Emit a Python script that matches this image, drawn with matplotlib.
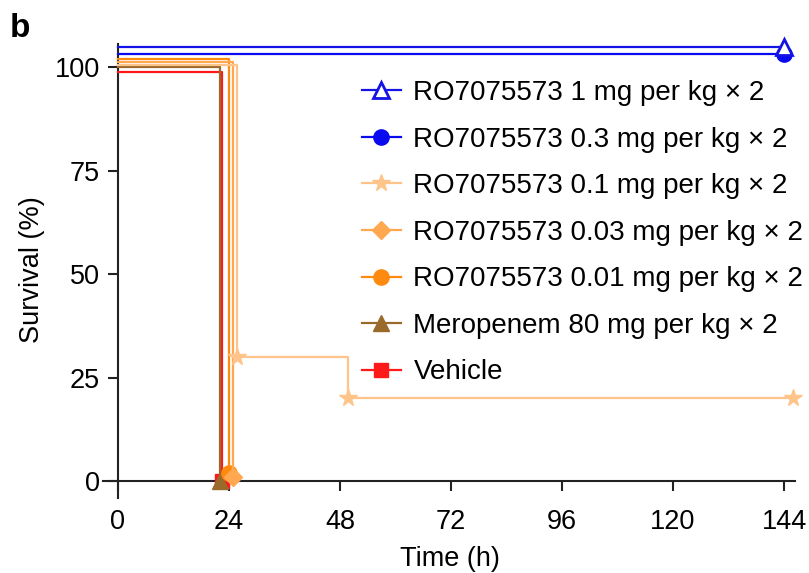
import numpy as np
import matplotlib
matplotlib.use("Agg")
import matplotlib.pyplot as plt

plt.rcParams['font.family'] = ['Liberation Sans', 'DejaVu Sans']

# survival curves (time in h, survival in %)
labels = ["RO7075573 1 mg per kg \u00d7 2",
          "RO7075573 0.3 mg per kg \u00d7 2",
          "RO7075573 0.1 mg per kg \u00d7 2",
          "RO7075573 0.03 mg per kg \u00d7 2",
          "RO7075573 0.01 mg per kg \u00d7 2",
          "Meropenem 80 mg per kg \u00d7 2",
          "Vehicle"]
t_1 = [0, 144]
s_1 = [104.8, 104.8]
t_03 = [0, 144]
s_03 = [103.1, 103.1]
t_01 = [0, 25.8, 49.7, 145.9]
s_01 = [100.4, 30, 20, 20]
t_003 = [0, 24.9]
s_003 = [101.1, 1]
t_001 = [0, 24.0]
s_001 = [101.9, 2]
t_mero = [0, 22.0]
s_mero = [100.0, 0]
t_veh = [0, 22.6]
s_veh = [98.8, 0]

times = [t_1, t_03, t_01, t_003, t_001, t_mero, t_veh]
survs = [s_1, s_03, s_01, s_003, s_001, s_mero, s_veh]
colors = ['#1414e6', '#0a0af0', '#ffc48a', '#ffa84f', '#ff8a10', '#9a6a2a', '#ff1a1a']
markers = ['^', 'o', '*', 'D', 'o', '^', 's']
msizes = [11, 11, 13, 9, 11, 12, 10]
faces = ['white', None, None, None, None, None, None]

fig = plt.figure(figsize=(8.09, 5.73), dpi=100)
ax = fig.add_axes([0.1258, 0.1316, 0.8605, 0.7948])

# draw vehicle first so it sits below the others
for i in reversed(range(len(labels))):
    fc = faces[i] if faces[i] else colors[i]
    ax.plot(times[i], survs[i], drawstyle='steps-post', color=colors[i],
            lw=1.6, marker=markers[i], ms=msizes[i], mfc=fc, mec=colors[i],
            mew=2 if faces[i] else 1, markevery=slice(1, None),
            label=labels[i], zorder=3 + len(labels) - i, clip_on=False)

ax.set_xlim(-3.5, 147)
ax.set_ylim(-4, 106)
for s in ['top', 'right']:
    ax.spines[s].set_visible(False)
ax.spines['left'].set_position(('data', 0))
ax.spines['bottom'].set_position(('data', 0))
ax.spines['left'].set_bounds(-4, 105.5)
ax.spines['bottom'].set_bounds(-3.2, 146.4)
for s in ['left', 'bottom']:
    ax.spines[s].set_linewidth(1.5)
    ax.spines[s].set_color('#222222')
ax.set_xticks([0, 24, 48, 72, 96, 120, 144])
ax.set_yticks([0, 25, 50, 75, 100])
ax.tick_params(direction='out', length=7, width=1.5, color='#222222',
               labelsize=19.5, pad=6)
ax.tick_params(axis='x', pad=13)
ax.set_xlabel("Time (h)", fontsize=19.5, labelpad=8)
ax.set_ylabel("Survival (%)", fontsize=19.5)
ax.yaxis.set_label_coords(-0.082, 0.5)

h, l = ax.get_legend_handles_labels()
h, l = h[::-1], l[::-1]
ax.legend(h, l, loc='upper left', bbox_to_anchor=(362 / 809, 1 - 80 / 573),
          bbox_transform=fig.transFigure, frameon=False, fontsize=20,
          handlelength=1.4, handletextpad=0.45, borderpad=0, borderaxespad=0,
          labelspacing=0.74)

fig.text(0.012, 0.935, "b", fontsize=24, fontweight='bold')

fig.savefig("out.png", dpi=100)
